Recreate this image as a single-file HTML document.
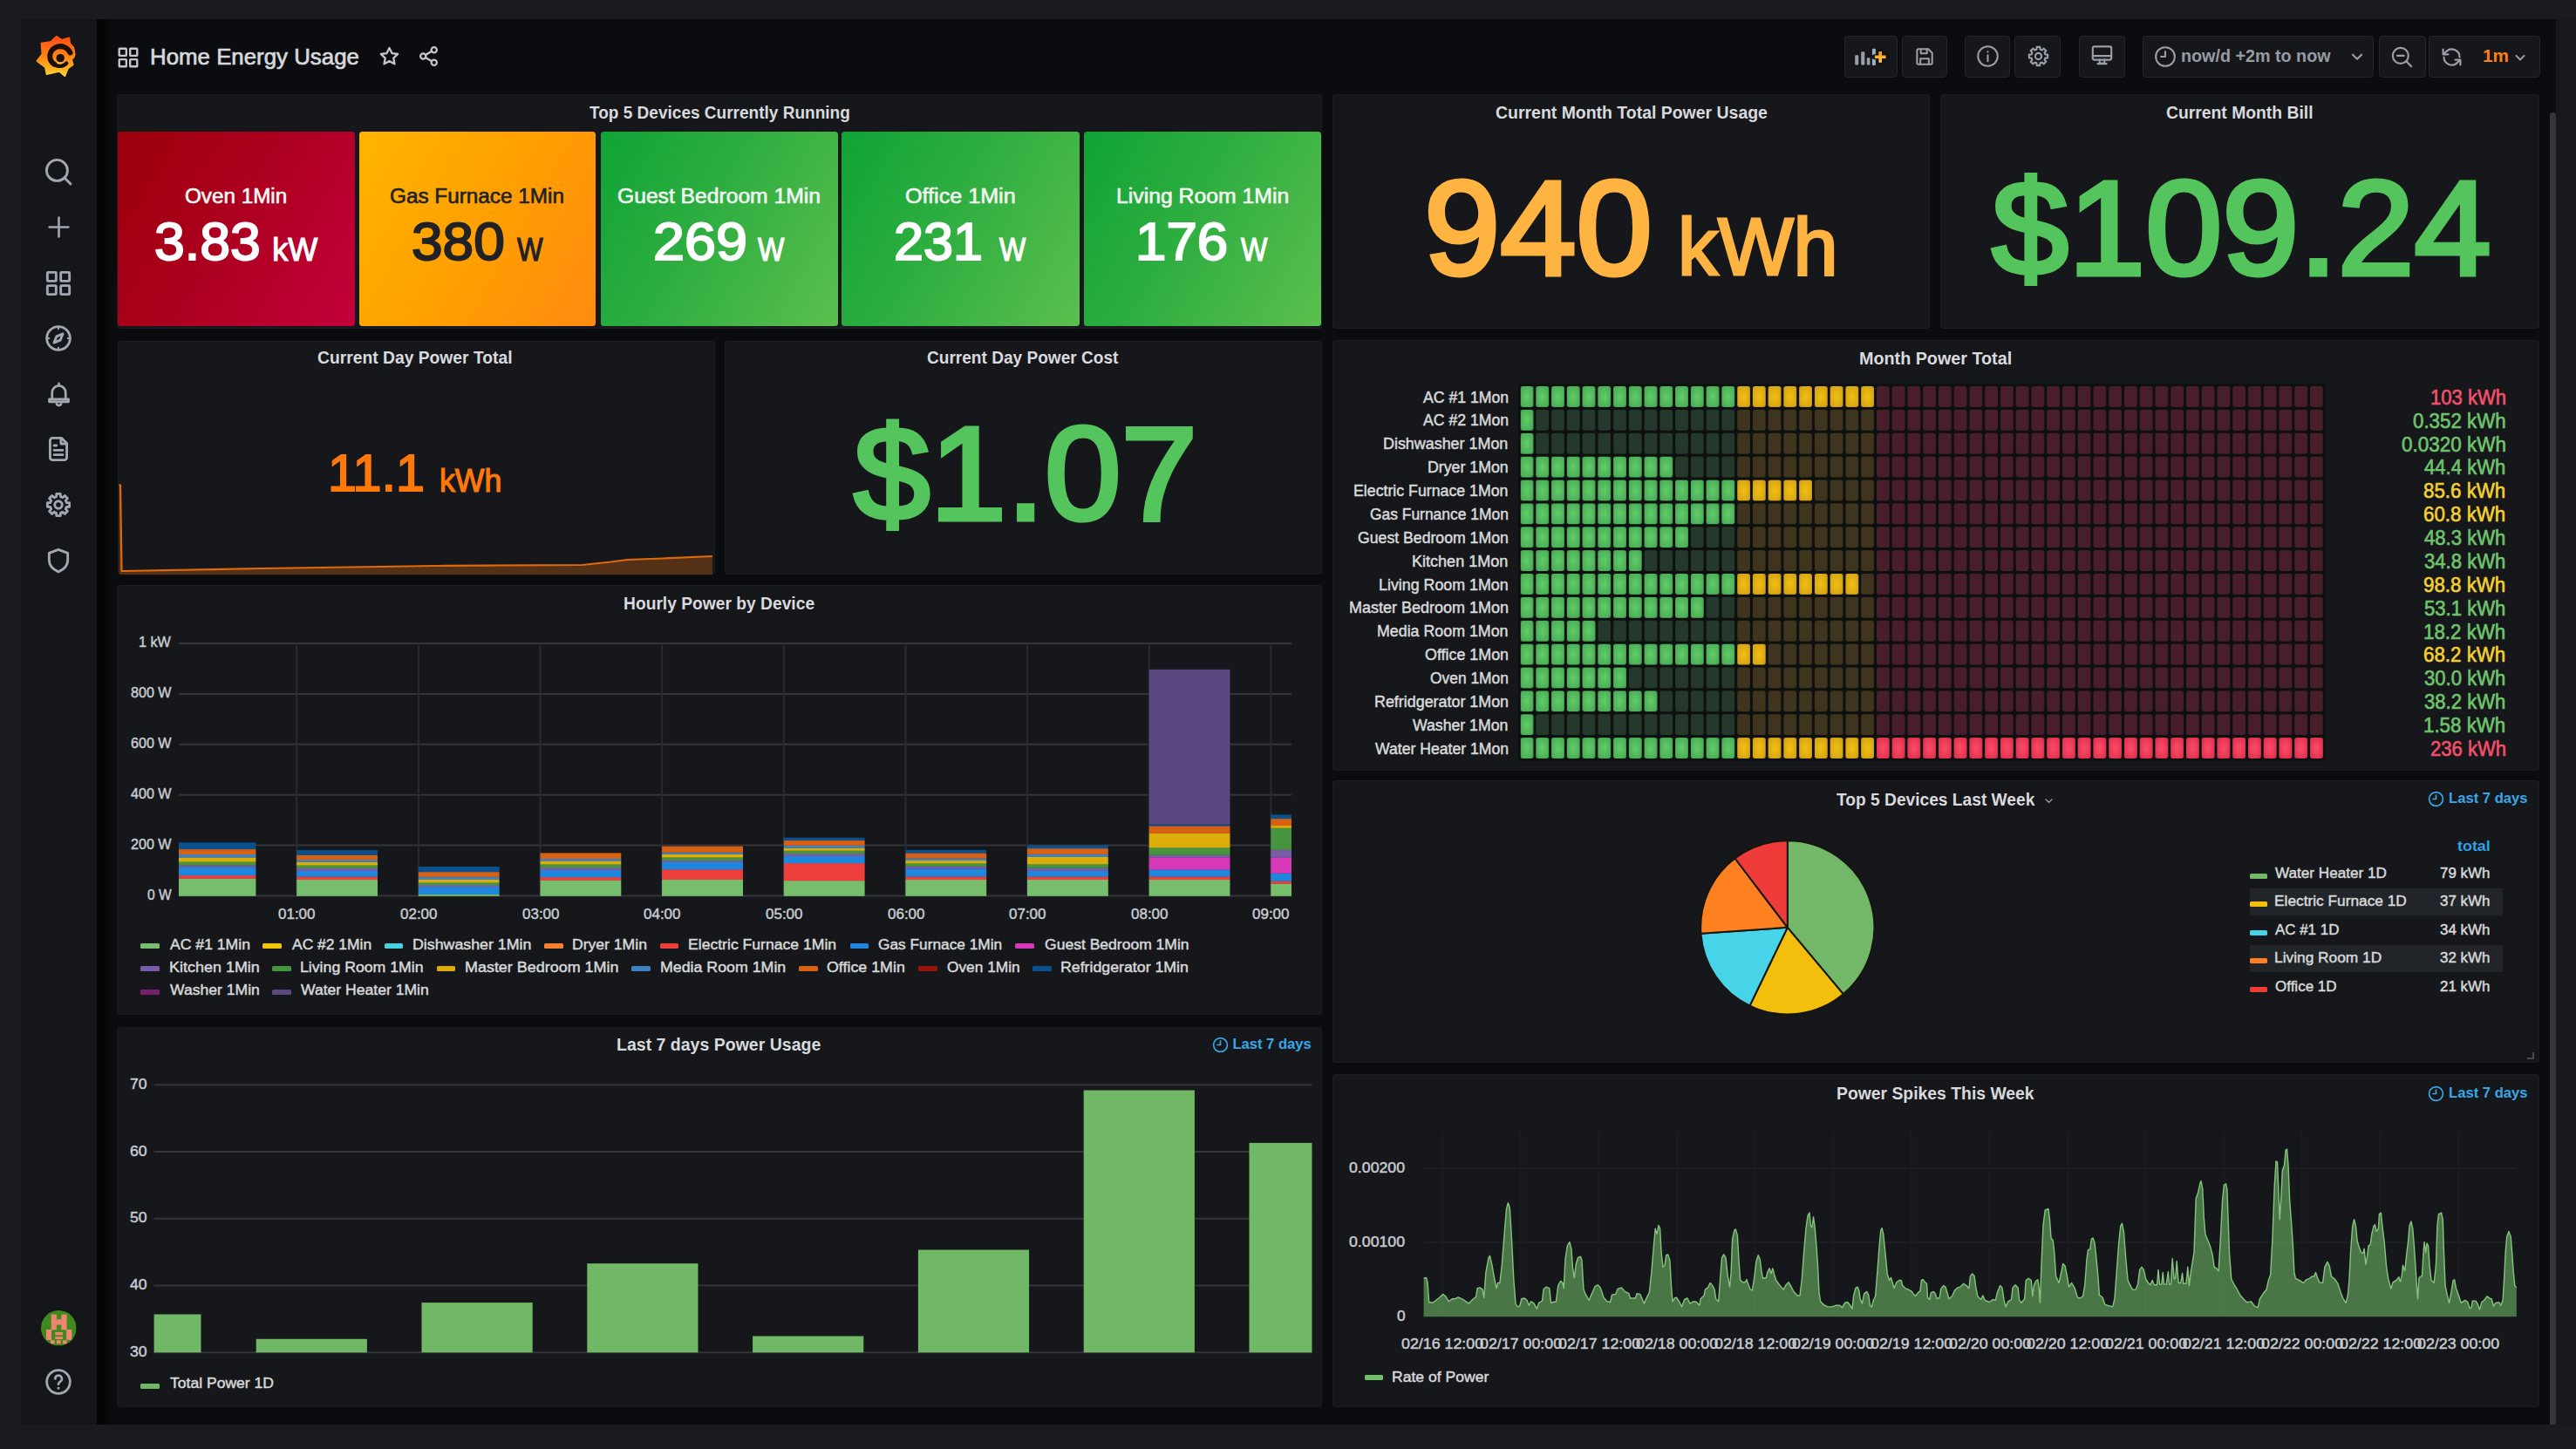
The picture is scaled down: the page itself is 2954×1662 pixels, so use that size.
<!DOCTYPE html><html lang="en"><head><meta charset="utf-8"><title>Home Energy Usage - Grafana</title><style>
*{box-sizing:border-box}
html,body{margin:0;padding:0}
body{width:2954px;height:1662px;overflow:hidden;background:#1a1b1f;font-family:"Liberation Sans",Arial,sans-serif;position:relative}
.app{position:absolute;left:24px;top:22px;width:2907px;height:1612px;background:#0b0c0f;overflow:hidden}
.side{position:absolute;left:0;top:0;width:86.500px;height:1612px;background:#15161a;z-index:3}
.side:after{content:"";position:absolute;left:86.500px;top:0;width:20px;height:100%;background:linear-gradient(90deg,rgba(0,0,0,.62),rgba(0,0,0,.45) 45%,rgba(0,0,0,0))}
.top{position:absolute;left:0;top:0;width:2907px;height:86px}
.rstrip{position:absolute;left:2931px;top:22px;width:23px;height:1612px;background:#17181c}
.scroll{position:absolute;left:2900px;top:107px;width:7px;height:1505px;background:#34363c;border-radius:3px 3px 0 0}
.panel{position:absolute;background:#15171b;border-radius:4px;overflow:hidden;box-shadow:inset 0 0 0 1px #1b1d21}
.t{position:absolute;white-space:pre;transform-origin:0 0}
.ic{position:absolute;overflow:visible}
.btn{position:absolute;background:#15171b;border:1.500px solid #22252a;border-radius:4px}
.tile{position:absolute;border-radius:3.500px}
.sw{position:absolute;display:block;width:21.500px;height:6px;border-radius:1.500px}
.zebra{position:absolute;background:#212429}
</style></head><body><div class="rstrip"></div><div class="app"><nav class="side"><svg class="ic" style="left:15.5px;top:16.8px" width="47.8" height="50.3" viewBox="250 270 770 810"><defs><linearGradient id="lg" x1="0" y1="0" x2="0" y2="1"><stop offset="0" stop-color="#ff4d12"/><stop offset="0.45" stop-color="#ff7f16"/><stop offset="0.800" stop-color="#ffb01c"/><stop offset="1" stop-color="#ffd23a"/></linearGradient></defs><path d="M650 312 L745 378 L885 338 L898 445 L965 520 L988 640 L972 700 L930 740 L955 838 L862 905 L805 1048 L700 962 L468 1015 L440 885 L288 770 L385 640 L368 440 L545 412Z" fill="url(#lg)" stroke="url(#lg)" stroke-width="26" stroke-linejoin="round"/><path d="M903 615 L886 586 L866 561 L842 539 L816 522 L787 509 L757 500 L726 496 L696 498 L666 503 L638 514 L612 528 L588 546 L568 567 L552 591 L540 617 L532 644 L528 672 L529 699 L533 726 L542 752 L555 776 L571 797 L590 815 L611 830" fill="none" stroke="#1c0e0b" stroke-width="96" stroke-linecap="round" stroke-linejoin="round"/><path d="M569 790 L577 800 L585 809 L594 818 L603 827 L613 834 L624 841 L635 847 L646 852 L658 856 L671 859 L683 862 L696 863 L708 864 L721 863 L734 862 L746 860 L759 856 L771 852 L782 847 L794 841 L805 834 L815 827 L825 818 L834 809" fill="none" stroke="#1c0e0b" stroke-width="70" stroke-linecap="round" stroke-linejoin="round"/><circle cx="720" cy="716" r="76" fill="#1c0e0b"/><path d="M672 796A86 86 0 0 0 752 800" fill="none" stroke="#ffc83a" stroke-width="20" stroke-linecap="round"/></svg><svg class="ic" style="left:27.0px;top:158.5px" width="32" height="32" viewBox="0 0 24 24" ><g fill="none" stroke="#a2a8b2" stroke-width="2.15" stroke-linecap="round" stroke-linejoin="round"><circle cx="10.800" cy="10.800" r="9"/><path d="M17.400 17.400l5 5"/></g></svg><svg class="ic" style="left:28.5px;top:223.5px" width="29" height="29" viewBox="0 0 24 24" ><g fill="none" stroke="#a2a8b2" stroke-width="2.15" stroke-linecap="round" stroke-linejoin="round"><path d="M12 3v18M3 12h18"/></g></svg><svg class="ic" style="left:27.0px;top:286.5px" width="32" height="32" viewBox="0 0 24 24" ><g fill="none" stroke="#a2a8b2" stroke-width="2.15" stroke-linecap="round" stroke-linejoin="round"><rect x="2.5" y="2.5" width="7.5" height="7.5" rx="0.6"/><rect x="14" y="2.5" width="7.5" height="7.5" rx="0.6"/><rect x="2.5" y="14" width="7.5" height="7.5" rx="0.6"/><rect x="14" y="14" width="7.5" height="7.5" rx="0.6"/></g></svg><svg class="ic" style="left:27.0px;top:349.5px" width="32" height="32" viewBox="0 0 24 24" ><g fill="none" stroke="#a2a8b2" stroke-width="2.15" stroke-linecap="round" stroke-linejoin="round"><circle cx="12" cy="12" r="10"/><path d="M15.8 8.2l-2.2 5.4-5.4 2.2 2.2-5.4z"/><path d="M12 2.5v1.5M12 20v1.5M2.5 12H4M20 12h1.5" stroke-width="1.5"/></g></svg><svg class="ic" style="left:27.5px;top:414.0px" width="31" height="31" viewBox="0 0 24 24" ><g fill="none" stroke="#a2a8b2" stroke-width="2.15" stroke-linecap="round" stroke-linejoin="round"><path d="M6 17V11a6 6 0 0 1 12 0v6"/><path d="M3.5 17h17v2.2h-17z"/><path d="M10 21.2a2.2 2.2 0 0 0 4 0"/><path d="M12 3v1.6"/></g></svg><svg class="ic" style="left:27.0px;top:477.0px" width="32" height="32" viewBox="0 0 24 24" ><g fill="none" stroke="#a2a8b2" stroke-width="2.15" stroke-linecap="round" stroke-linejoin="round"><path d="M14.5 2.5H7a2.2 2.2 0 0 0-2.2 2.2v14.6A2.2 2.2 0 0 0 7 21.5h10a2.2 2.2 0 0 0 2.2-2.2V7.2z"/><path d="M14.2 2.8v4.7h4.7"/><path d="M8.3 13h7.4M8.3 17h7.4M8.3 9h2"/></g></svg><svg class="ic" style="left:27.0px;top:541.0px" width="32" height="32" viewBox="0 0 24 24" ><g fill="none" stroke="#a2a8b2" stroke-width="2.15" stroke-linecap="round" stroke-linejoin="round"><path d="M10.35 2.54 L13.65 2.54 L13.85 5.04 L15.62 5.77 L17.52 4.15 L19.85 6.48 L18.23 8.38 L18.96 10.15 L21.46 10.35 L21.46 13.65 L18.96 13.85 L18.23 15.62 L19.85 17.52 L17.52 19.85 L15.62 18.23 L13.85 18.96 L13.65 21.46 L10.35 21.46 L10.15 18.96 L8.38 18.23 L6.48 19.85 L4.15 17.52 L5.77 15.62 L5.04 13.85 L2.54 13.65 L2.54 10.35 L5.04 10.15 L5.77 8.38 L4.15 6.48 L6.48 4.15 L8.38 5.77 L10.15 5.04Z"/><circle cx="12" cy="12" r="3.2"/></g></svg><svg class="ic" style="left:27.0px;top:604.5px" width="32" height="32" viewBox="0 0 24 24" ><g fill="none" stroke="#a2a8b2" stroke-width="2.15" stroke-linecap="round" stroke-linejoin="round"><path d="M12 2.6l8 2.9v6.2c0 4.6-3.2 8-8 10-4.8-2-8-5.4-8-10V5.500z"/></g></svg><svg class="ic" style="left:23.1px;top:1480.5px" width="40.6" height="40.6" viewBox="0 0 40.6 40.6" ><defs><clipPath id="avc"><circle cx="20.3" cy="20.3" r="20.3"/></clipPath></defs><g clip-path="url(#avc)"><rect width="40.6" height="40.6" fill="#3f8a1c"/><rect x="11.80" y="4.60" width="6.10" height="6.10" fill="#f28474"/><rect x="23.40" y="4.60" width="6.10" height="6.10" fill="#f28474"/><rect x="11.80" y="10.40" width="6.10" height="6.10" fill="#f28474"/><rect x="17.60" y="10.40" width="6.10" height="6.10" fill="#f28474"/><rect x="23.40" y="10.40" width="6.10" height="6.10" fill="#f28474"/><rect x="11.80" y="16.20" width="6.10" height="6.10" fill="#f28474"/><rect x="23.40" y="16.20" width="6.10" height="6.10" fill="#f28474"/><rect x="6.00" y="22.00" width="6.10" height="6.10" fill="#f28474"/><rect x="29.20" y="22.00" width="6.10" height="6.10" fill="#f28474"/><rect x="6.00" y="27.80" width="6.10" height="6.10" fill="#f28474"/><rect x="29.20" y="27.80" width="6.10" height="6.10" fill="#f28474"/><rect x="16.24" y="24.94" width="8.70" height="3.48" fill="#f28474"/><rect x="16.24" y="30.16" width="8.70" height="2.90" fill="#f28474"/><rect x="11.02" y="34.22" width="4.64" height="4.06" fill="#f28474"/><rect x="17.98" y="34.22" width="4.64" height="4.06" fill="#f28474"/><rect x="24.94" y="34.22" width="4.64" height="4.06" fill="#f28474"/></g></svg><svg class="ic" style="left:27.0px;top:1546.8px" width="32" height="32" viewBox="0 0 24 24" ><g fill="none" stroke="#a2a8b2" stroke-width="2.1" stroke-linecap="round" stroke-linejoin="round"><circle cx="12" cy="12" r="10"/><path d="M9.2 9.3a2.9 2.9 0 1 1 4.3 2.6c-.9.5-1.5 1-1.5 2.100"/><path d="M12 17.3v.2"/></g></svg></nav><header class="top"><svg class="ic" style="left:110.0px;top:31.0px" width="26" height="26" viewBox="0 0 24 24" ><g fill="none" stroke="#c3c7cd" stroke-width="2.2" stroke-linecap="round" stroke-linejoin="round"><rect x="2.5" y="2.5" width="7.5" height="7.5" rx="0.6"/><rect x="14" y="2.5" width="7.5" height="7.5" rx="0.6"/><rect x="2.5" y="14" width="7.5" height="7.5" rx="0.6"/><rect x="14" y="14" width="7.5" height="7.5" rx="0.6"/></g></svg><span class="t" style="left:148.1px;top:29.6px;font-size:26.4px;line-height:26.4px;color:#d6d8dc;-webkit-text-stroke:0.71px;transform:scaleX(0.9794);">Home Energy Usage</span><svg class="ic" style="left:409.5px;top:30.0px" width="25" height="25" viewBox="0 0 24 24" ><g fill="none" stroke="#c3c7cd" stroke-width="2.2" stroke-linecap="round" stroke-linejoin="round"><path d="M12 2.8l2.85 5.9 6.45.9-4.7 4.5 1.15 6.4L12 17.4l-5.75 3.100 1.15-6.4-4.7-4.5 6.450-.9z"/></g></svg><svg class="ic" style="left:454.5px;top:30.0px" width="25" height="25" viewBox="0 0 24 24" ><g fill="none" stroke="#c3c7cd" stroke-width="2.2" stroke-linecap="round" stroke-linejoin="round"><circle cx="18" cy="5" r="3"/><circle cx="6" cy="12" r="3"/><circle cx="18" cy="19" r="3"/><path d="M8.600 10.500l6.800-4M8.600 13.500l6.800 4"/></g></svg><div class="btn" style="left:2090.5px;top:18.5px;width:61.0px;height:48px"></div><div class="btn" style="left:2156.7px;top:18.5px;width:52.3px;height:48px"></div><div class="btn" style="left:2229.2px;top:18.5px;width:51.8px;height:48px"></div><div class="btn" style="left:2286.4px;top:18.5px;width:53.0px;height:48px"></div><div class="btn" style="left:2360.0px;top:18.5px;width:52.6px;height:48px"></div><div class="btn" style="left:2432.5px;top:18.5px;width:265.9px;height:48px"></div><div class="btn" style="left:2704.0px;top:18.5px;width:53.6px;height:48px"></div><div class="btn" style="left:2760.5px;top:18.5px;width:128.1px;height:48px"></div><svg class="ic" style="left:2096.0px;top:28.0px" width="50" height="30" viewBox="0 0 50 30" ><defs><linearGradient id="apg" x1="0" y1="0" x2="0" y2="1"><stop offset="0" stop-color="#ff9318"/><stop offset="1" stop-color="#ffce3e"/></linearGradient></defs><rect x="7.2" y="13.3" width="4.0" height="11.3" rx="1" fill="#9a9ea6"/><rect x="14.2" y="9.2" width="4.1" height="15.4" rx="1" fill="#9a9ea6"/><rect x="20.8" y="16.3" width="3.6" height="8.3" rx="1" fill="#9a9ea6"/><rect x="26.9" y="5.7" width="4.0" height="19.2" rx="1" fill="#9fb0c4"/><path d="M36.2 8.9v12.800M29.8 15.3h12.800" stroke="#14100a" stroke-width="6" stroke-linecap="round" fill="none"/><path d="M36.2 8.9v12.800M29.8 15.3h12.800" stroke="url(#apg)" stroke-width="3.600" fill="none"/></svg><svg class="ic" style="left:2170.0px;top:29.5px" width="26" height="26" viewBox="0 0 24 24" ><g fill="none" stroke="#9a9fa8" stroke-width="1.9" stroke-linecap="round" stroke-linejoin="round"><path d="M4 5.500A1.500 1.500 0 0 1 5.500 4H16l4 4v10.500a1.500 1.500 0 0 1-1.500 1.500h-13A1.500 1.500 0 0 1 4 18.500z"/><path d="M8 4v4.500h6.500V4"/><path d="M7.500 20v-6h9v6"/></g></svg><svg class="ic" style="left:2242.0px;top:29.0px" width="27" height="27" viewBox="0 0 24 24" ><g fill="none" stroke="#9a9fa8" stroke-width="1.8" stroke-linecap="round" stroke-linejoin="round"><circle cx="12" cy="12" r="10"/><path d="M12 11v6"/><path d="M12 7.400v.2"/></g></svg><svg class="ic" style="left:2299.5px;top:29.0px" width="27" height="27" viewBox="0 0 24 24" ><g fill="none" stroke="#9a9fa8" stroke-width="1.9" stroke-linecap="round" stroke-linejoin="round"><path d="M10.35 2.54 L13.65 2.54 L13.85 5.04 L15.62 5.77 L17.52 4.15 L19.85 6.48 L18.23 8.38 L18.96 10.15 L21.46 10.35 L21.46 13.65 L18.96 13.85 L18.23 15.62 L19.85 17.52 L17.52 19.85 L15.62 18.23 L13.85 18.96 L13.65 21.46 L10.35 21.46 L10.15 18.96 L8.38 18.23 L6.48 19.85 L4.15 17.52 L5.77 15.62 L5.04 13.85 L2.54 13.65 L2.54 10.35 L5.04 10.15 L5.77 8.38 L4.15 6.48 L6.48 4.15 L8.38 5.77 L10.15 5.04Z"/><circle cx="12" cy="12" r="3.2"/></g></svg><svg class="ic" style="left:2373.0px;top:28.0px" width="27" height="27" viewBox="0 0 24 24" ><g fill="none" stroke="#9a9fa8" stroke-width="1.9" stroke-linecap="round" stroke-linejoin="round"><rect x="2.500" y="3" width="19" height="13.500" rx="1.800"/><path d="M2.500 12.500h19"/><path d="M9.500 16.500v3.500h5v-3.500"/><path d="M7.500 20.500h9"/></g></svg><svg class="ic" style="left:2446.2px;top:29.5px" width="26" height="26" viewBox="0 0 24 24" ><g fill="none" stroke="#9a9fa8" stroke-width="1.9" stroke-linecap="round" stroke-linejoin="round"><circle cx="12" cy="12" r="10"/><path d="M12 6.500V12H7.500"/></g></svg><span class="t" style="left:2477.0px;top:32.4px;font-size:20px;line-height:20px;color:#979ba3;font-weight:700;transform:scaleX(0.9866);">now/d +2m to now</span><svg class="ic" style="left:2667.5px;top:32.0px" width="22" height="22" viewBox="0 0 24 24" ><g fill="none" stroke="#9a9fa8" stroke-width="2.3" stroke-linecap="round" stroke-linejoin="round"><path d="M6.500 9.500l5.500 5.500 5.500-5.500"/></g></svg><svg class="ic" style="left:2716.5px;top:30.0px" width="27" height="27" viewBox="0 0 24 24" ><g fill="none" stroke="#9a9fa8" stroke-width="1.9" stroke-linecap="round" stroke-linejoin="round"><circle cx="10.500" cy="10.500" r="8"/><path d="M16.500 16.500l5 5"/><path d="M7 10.500h7"/></g></svg><svg class="ic" style="left:2774.2px;top:29.5px" width="27" height="27" viewBox="0 0 24 24" ><g fill="none" stroke="#9a9fa8" stroke-width="1.9" stroke-linecap="round" stroke-linejoin="round"><path d="M20 12a8 8 0 0 0-14-5.300L3.500 9"/><path d="M3.200 4v5.200h5.200"/><path d="M4 12a8 8 0 0 0 14 5.300l2.500-2.300"/><path d="M20.800 20v-5.200h-5.200"/></g></svg><span class="t" style="left:2822.6px;top:32.4px;font-size:20px;line-height:20px;color:#ff7f17;font-weight:700;transform:scaleX(1.0360);">1m</span><svg class="ic" style="left:2855.7px;top:33.5px" width="20" height="20" viewBox="0 0 24 24" ><g fill="none" stroke="#9a9fa8" stroke-width="2.4" stroke-linecap="round" stroke-linejoin="round"><path d="M6.500 9.500l5.500 5.500 5.500-5.500"/></g></svg></header><main><section class="panel" style="left:110px;top:86px;width:1382px;height:268.5px"><span class="t" style="left:542.1px;top:10.9px;font-size:20px;line-height:20px;color:#d8dade;font-weight:700;transform:scaleX(0.9514);">Top 5 Devices Currently Running</span><div class="tile" style="left:0.5px;top:42.7px;width:272.8px;height:223.700px;background:linear-gradient(120deg,#9c000b 0%,#a80019 35%,#c3003b 100%)"></div><span class="t" style="left:78.2px;top:105.8px;font-size:23px;line-height:23px;color:#f2f6f2;-webkit-text-stroke:0.62px;transform:scaleX(1.0541);">Oven 1Min</span><span class="t" style="left:42.9px;top:139.2px;font-size:60.75px;line-height:60.75px;color:#ffffff;-webkit-text-stroke:2.00px;transform:scaleX(1.0304);">3.83</span><span class="t" style="left:178.3px;top:160.6px;font-size:36.05px;line-height:36.05px;color:#ffffff;-webkit-text-stroke:1.19px;">kW</span><div class="tile" style="left:277.8px;top:42.7px;width:271.4px;height:223.700px;background:linear-gradient(120deg,#ffb400 0%,#ffa000 50%,#ff8a10 100%)"></div><span class="t" style="left:313.4px;top:105.8px;font-size:23px;line-height:23px;color:#202226;-webkit-text-stroke:0.62px;transform:scaleX(1.0568);">Gas Furnace 1Min</span><span class="t" style="left:338.1px;top:139.2px;font-size:60.75px;line-height:60.75px;color:#202226;-webkit-text-stroke:2.00px;transform:scaleX(1.0535);">380</span><span class="t" style="left:459.1px;top:160.6px;font-size:36.05px;line-height:36.05px;color:#202226;-webkit-text-stroke:1.19px;transform:scaleX(0.8696);">W</span><div class="tile" style="left:554.6px;top:42.7px;width:272.0px;height:223.700px;background:linear-gradient(120deg,#0fa336 0%,#2fae40 45%,#5bbf4f 100%)"></div><span class="t" style="left:574.0px;top:105.8px;font-size:23px;line-height:23px;color:#f2f6f2;-webkit-text-stroke:0.62px;transform:scaleX(1.0719);">Guest Bedroom 1Min</span><span class="t" style="left:614.9px;top:139.2px;font-size:60.75px;line-height:60.75px;color:#ffffff;-webkit-text-stroke:2.00px;transform:scaleX(1.0658);">269</span><span class="t" style="left:734.6px;top:160.6px;font-size:36.05px;line-height:36.05px;color:#ffffff;-webkit-text-stroke:1.19px;transform:scaleX(0.8923);">W</span><div class="tile" style="left:831.4px;top:42.7px;width:272.4px;height:223.700px;background:linear-gradient(120deg,#0fa336 0%,#2fae40 45%,#5bbf4f 100%)"></div><span class="t" style="left:904.1px;top:105.8px;font-size:23px;line-height:23px;color:#f2f6f2;-webkit-text-stroke:0.62px;transform:scaleX(1.0930);">Office 1Min</span><span class="t" style="left:891.2px;top:139.2px;font-size:60.75px;line-height:60.75px;color:#ffffff;-webkit-text-stroke:2.00px;transform:scaleX(1.0074);">231</span><span class="t" style="left:1011.9px;top:160.6px;font-size:36.05px;line-height:36.05px;color:#ffffff;-webkit-text-stroke:1.19px;transform:scaleX(0.8895);">W</span><div class="tile" style="left:1108.7px;top:42.7px;width:272.6px;height:223.700px;background:linear-gradient(120deg,#0fa336 0%,#2fae40 45%,#5bbf4f 100%)"></div><span class="t" style="left:1145.8px;top:105.8px;font-size:23px;line-height:23px;color:#f2f6f2;-webkit-text-stroke:0.62px;transform:scaleX(1.0770);">Living Room 1Min</span><span class="t" style="left:1168.3px;top:139.2px;font-size:60.75px;line-height:60.75px;color:#ffffff;-webkit-text-stroke:2.00px;transform:scaleX(1.0484);">176</span><span class="t" style="left:1289.1px;top:160.6px;font-size:36.05px;line-height:36.05px;color:#ffffff;-webkit-text-stroke:1.19px;transform:scaleX(0.8923);">W</span></section><section class="panel" style="left:1504px;top:86px;width:685px;height:268.5px"><span class="t" style="left:186.6px;top:11.1px;font-size:20px;line-height:20px;color:#d8dade;font-weight:700;transform:scaleX(0.9724);">Current Month Total Power Usage</span><span class="t" style="left:105.2px;top:76.8px;font-size:153.14px;line-height:153.14px;color:#ffb340;-webkit-text-stroke:5.05px;transform:scaleX(1.0247);">940</span><span class="t" style="left:396.0px;top:129.5px;font-size:92.12px;line-height:92.12px;color:#ffb340;-webkit-text-stroke:3.04px;transform:scaleX(0.9970);">kWh</span></section><section class="panel" style="left:2201px;top:86px;width:686.5px;height:268.5px"><span class="t" style="left:259.2px;top:11.1px;font-size:20px;line-height:20px;color:#d8dade;font-weight:700;transform:scaleX(0.9663);">Current Month Bill</span><span class="t" style="left:59.2px;top:76.8px;font-size:153.14px;line-height:153.14px;color:#54c45c;-webkit-text-stroke:5.05px;transform:scaleX(1.0345);">$109.24</span></section><section class="panel" style="left:110.5px;top:368.5px;width:685px;height:268.5px"><span class="t" style="left:229.7px;top:9.6px;font-size:20px;line-height:20px;color:#d8dade;font-weight:700;transform:scaleX(0.9640);">Current Day Power Total</span><span class="t" style="left:241.6px;top:123.8px;font-size:59.01px;line-height:59.01px;color:#ff780a;-webkit-text-stroke:1.95px;transform:scaleX(1.0058);">11.1</span><span class="t" style="left:369.9px;top:143.6px;font-size:36.05px;line-height:36.05px;color:#ff780a;-webkit-text-stroke:1.19px;transform:scaleX(0.9894);">kWh</span><svg class="ic" style="left:0;top:0" width="685" height="268" viewBox="0 0 685 268"><polygon points="1.5,165.0 3.0,165.5 4.5,264.0 165.5,261.0 365.5,258.0 532.5,257.0 565.5,253.5 584.5,251.0 625.5,249.5 682.0,247.0 682.0,268.0 1.5,268.0" fill="#ff780a" fill-opacity="0.27"/><polyline points="1.5,165.0 3.0,165.5 4.5,264.0 165.5,261.0 365.5,258.0 532.5,257.0 565.5,253.5 584.5,251.0 625.5,249.5 682.0,247.0" fill="none" stroke="#e06a0b" stroke-width="2.2" stroke-linejoin="round"/></svg></section><section class="panel" style="left:806.5px;top:368.5px;width:685.5px;height:268.5px"><span class="t" style="left:232.9px;top:9.6px;font-size:20px;line-height:20px;color:#d8dade;font-weight:700;transform:scaleX(0.9536);">Current Day Power Cost</span><span class="t" style="left:148.4px;top:75.9px;font-size:153.0px;line-height:153.0px;color:#54c45c;-webkit-text-stroke:5.05px;transform:scaleX(1.0294);">$1.07</span></section><section class="panel" style="left:1504px;top:368px;width:1383.5px;height:493.5px"><span class="t" style="left:604.0px;top:10.6px;font-size:20px;line-height:20px;color:#d8dade;font-weight:700;transform:scaleX(0.9873);">Month Power Total</span><svg class="ic" style="left:0;top:0" width="1383" height="493" viewBox="0 0 1383 493"><defs><radialGradient id="rgg" cx="0.5" cy="0.5" r="0.75"><stop offset="0" stop-color="#62cc69"/><stop offset="1" stop-color="#43a551"/></radialGradient><pattern id="plg" patternUnits="userSpaceOnUse" x="215.60" y="53.00" width="17.754" height="26.87"><rect x="0" y="0" width="14.7" height="23.8" rx="2.6" fill="url(#rgg)"/></pattern><pattern id="pdg" patternUnits="userSpaceOnUse" x="215.60" y="53.00" width="17.754" height="26.87"><rect x="0" y="0" width="14.7" height="23.8" rx="2.6" fill="#24382b"/></pattern><radialGradient id="rgy" cx="0.5" cy="0.5" r="0.75"><stop offset="0" stop-color="#f0c010"/><stop offset="1" stop-color="#cf9c18"/></radialGradient><pattern id="ply" patternUnits="userSpaceOnUse" x="215.60" y="53.00" width="17.754" height="26.87"><rect x="0" y="0" width="14.7" height="23.8" rx="2.6" fill="url(#rgy)"/></pattern><pattern id="pdy" patternUnits="userSpaceOnUse" x="215.60" y="53.00" width="17.754" height="26.87"><rect x="0" y="0" width="14.7" height="23.8" rx="2.6" fill="#3f341d"/></pattern><radialGradient id="rgr" cx="0.5" cy="0.5" r="0.75"><stop offset="0" stop-color="#ff4a68"/><stop offset="1" stop-color="#d62c48"/></radialGradient><pattern id="plr" patternUnits="userSpaceOnUse" x="215.60" y="53.00" width="17.754" height="26.87"><rect x="0" y="0" width="14.7" height="23.8" rx="2.6" fill="url(#rgr)"/></pattern><pattern id="pdr" patternUnits="userSpaceOnUse" x="215.60" y="53.00" width="17.754" height="26.87"><rect x="0" y="0" width="14.7" height="23.8" rx="2.6" fill="#481e2a"/></pattern></defs><rect x="213.10" y="50.50" width="925.61" height="432.22" rx="3" fill="#0d100f"/><rect x="215.60" y="53.00" width="247.56" height="428.92" fill="url(#pdg)"/><rect x="464.16" y="53.00" width="158.79" height="428.92" fill="url(#pdy)"/><rect x="623.94" y="53.00" width="513.87" height="428.92" fill="url(#pdr)"/><rect x="215.60" y="53.00" width="247.56" height="24.30" fill="url(#plg)"/><rect x="464.16" y="53.00" width="158.79" height="24.30" fill="url(#ply)"/><rect x="215.60" y="79.87" width="16.75" height="24.30" fill="url(#plg)"/><rect x="215.60" y="106.74" width="16.75" height="24.30" fill="url(#plg)"/><rect x="215.60" y="133.61" width="176.54" height="24.30" fill="url(#plg)"/><rect x="215.60" y="160.48" width="247.56" height="24.30" fill="url(#plg)"/><rect x="464.16" y="160.48" width="87.77" height="24.30" fill="url(#ply)"/><rect x="215.60" y="187.35" width="247.56" height="24.30" fill="url(#plg)"/><rect x="215.60" y="214.22" width="194.29" height="24.30" fill="url(#plg)"/><rect x="215.60" y="241.09" width="141.03" height="24.30" fill="url(#plg)"/><rect x="215.60" y="267.96" width="247.56" height="24.30" fill="url(#plg)"/><rect x="464.16" y="267.96" width="141.03" height="24.30" fill="url(#ply)"/><rect x="215.60" y="294.83" width="212.05" height="24.30" fill="url(#plg)"/><rect x="215.60" y="321.70" width="87.77" height="24.30" fill="url(#plg)"/><rect x="215.60" y="348.57" width="247.56" height="24.30" fill="url(#plg)"/><rect x="464.16" y="348.57" width="34.51" height="24.30" fill="url(#ply)"/><rect x="215.60" y="375.44" width="123.28" height="24.30" fill="url(#plg)"/><rect x="215.60" y="402.31" width="158.79" height="24.30" fill="url(#plg)"/><rect x="215.60" y="429.18" width="16.75" height="24.30" fill="url(#plg)"/><rect x="215.60" y="456.05" width="247.56" height="24.30" fill="url(#plg)"/><rect x="464.16" y="456.05" width="158.79" height="24.30" fill="url(#ply)"/><rect x="623.94" y="456.05" width="513.87" height="24.30" fill="url(#plr)"/></svg><span class="t" style="left:103.6px;top:56.6px;font-size:18px;line-height:18px;color:#d8d9da;-webkit-text-stroke:0.49px;transform:scaleX(0.9806);">AC #1 1Mon</span><span class="t" style="left:1258.5px;top:53.8px;font-size:24.2px;line-height:24.2px;color:#f4506a;-webkit-text-stroke:0.65px;transform:scaleX(0.9119);">103 kWh</span><span class="t" style="left:103.6px;top:83.4px;font-size:18px;line-height:18px;color:#d8d9da;-webkit-text-stroke:0.49px;transform:scaleX(0.9806);">AC #2 1Mon</span><span class="t" style="left:1238.9px;top:80.7px;font-size:24.2px;line-height:24.2px;color:#6fc46c;-webkit-text-stroke:0.65px;transform:scaleX(0.9223);">0.352 kWh</span><span class="t" style="left:58.4px;top:110.3px;font-size:18px;line-height:18px;color:#d8d9da;-webkit-text-stroke:0.49px;transform:scaleX(0.9948);">Dishwasher 1Mon</span><span class="t" style="left:1225.6px;top:107.5px;font-size:24.2px;line-height:24.2px;color:#6fc46c;-webkit-text-stroke:0.65px;transform:scaleX(0.9292);">0.0320 kWh</span><span class="t" style="left:109.1px;top:137.2px;font-size:18px;line-height:18px;color:#d8d9da;-webkit-text-stroke:0.49px;transform:scaleX(0.9859);">Dryer 1Mon</span><span class="t" style="left:1252.2px;top:134.4px;font-size:24.2px;line-height:24.2px;color:#6fc46c;-webkit-text-stroke:0.65px;transform:scaleX(0.9135);">44.4 kWh</span><span class="t" style="left:24.4px;top:164.0px;font-size:18px;line-height:18px;color:#d8d9da;-webkit-text-stroke:0.49px;transform:scaleX(0.9852);">Electric Furnace 1Mon</span><span class="t" style="left:1251.3px;top:161.3px;font-size:24.2px;line-height:24.2px;color:#f4d030;-webkit-text-stroke:0.65px;transform:scaleX(0.9226);">85.6 kWh</span><span class="t" style="left:42.9px;top:190.9px;font-size:18px;line-height:18px;color:#d8d9da;-webkit-text-stroke:0.49px;transform:scaleX(0.9679);">Gas Furnance 1Mon</span><span class="t" style="left:1251.3px;top:188.2px;font-size:24.2px;line-height:24.2px;color:#f4d030;-webkit-text-stroke:0.65px;transform:scaleX(0.9226);">60.8 kWh</span><span class="t" style="left:28.9px;top:217.8px;font-size:18px;line-height:18px;color:#d8d9da;-webkit-text-stroke:0.49px;transform:scaleX(0.9814);">Guest Bedroom 1Mon</span><span class="t" style="left:1252.2px;top:215.0px;font-size:24.2px;line-height:24.2px;color:#6fc46c;-webkit-text-stroke:0.65px;transform:scaleX(0.9135);">48.3 kWh</span><span class="t" style="left:91.4px;top:244.7px;font-size:18px;line-height:18px;color:#d8d9da;-webkit-text-stroke:0.49px;transform:scaleX(1.0024);">Kitchen 1Mon</span><span class="t" style="left:1252.2px;top:241.9px;font-size:24.2px;line-height:24.2px;color:#6fc46c;-webkit-text-stroke:0.65px;transform:scaleX(0.9135);">34.8 kWh</span><span class="t" style="left:53.0px;top:271.5px;font-size:18px;line-height:18px;color:#d8d9da;-webkit-text-stroke:0.49px;transform:scaleX(0.9909);">Living Room 1Mon</span><span class="t" style="left:1251.3px;top:268.8px;font-size:24.2px;line-height:24.2px;color:#f4d030;-webkit-text-stroke:0.65px;transform:scaleX(0.9226);">98.8 kWh</span><span class="t" style="left:18.9px;top:298.4px;font-size:18px;line-height:18px;color:#d8d9da;-webkit-text-stroke:0.49px;">Master Bedroom 1Mon</span><span class="t" style="left:1252.2px;top:295.6px;font-size:24.2px;line-height:24.2px;color:#6fc46c;-webkit-text-stroke:0.65px;transform:scaleX(0.9135);">53.1 kWh</span><span class="t" style="left:51.3px;top:325.3px;font-size:18px;line-height:18px;color:#d8d9da;-webkit-text-stroke:0.49px;transform:scaleX(0.9897);">Media Room 1Mon</span><span class="t" style="left:1251.3px;top:322.5px;font-size:24.2px;line-height:24.2px;color:#6fc46c;-webkit-text-stroke:0.65px;transform:scaleX(0.9226);">18.2 kWh</span><span class="t" style="left:105.7px;top:352.1px;font-size:18px;line-height:18px;color:#d8d9da;-webkit-text-stroke:0.49px;transform:scaleX(0.9928);">Office 1Mon</span><span class="t" style="left:1251.3px;top:349.4px;font-size:24.2px;line-height:24.2px;color:#f4d030;-webkit-text-stroke:0.65px;transform:scaleX(0.9226);">68.2 kWh</span><span class="t" style="left:111.8px;top:379.0px;font-size:18px;line-height:18px;color:#d8d9da;-webkit-text-stroke:0.49px;transform:scaleX(0.9662);">Oven 1Mon</span><span class="t" style="left:1252.2px;top:376.2px;font-size:24.2px;line-height:24.2px;color:#6fc46c;-webkit-text-stroke:0.65px;transform:scaleX(0.9135);">30.0 kWh</span><span class="t" style="left:47.7px;top:405.9px;font-size:18px;line-height:18px;color:#d8d9da;-webkit-text-stroke:0.49px;transform:scaleX(0.9932);">Refridgerator 1Mon</span><span class="t" style="left:1252.2px;top:403.1px;font-size:24.2px;line-height:24.2px;color:#6fc46c;-webkit-text-stroke:0.65px;transform:scaleX(0.9135);">38.2 kWh</span><span class="t" style="left:92.4px;top:432.7px;font-size:18px;line-height:18px;color:#d8d9da;-webkit-text-stroke:0.49px;transform:scaleX(0.9815);">Washer 1Mon</span><span class="t" style="left:1251.3px;top:430.0px;font-size:24.2px;line-height:24.2px;color:#6fc46c;-webkit-text-stroke:0.65px;transform:scaleX(0.9226);">1.58 kWh</span><span class="t" style="left:48.7px;top:459.6px;font-size:18px;line-height:18px;color:#d8d9da;-webkit-text-stroke:0.49px;transform:scaleX(0.9784);">Water Heater 1Mon</span><span class="t" style="left:1258.5px;top:456.9px;font-size:24.2px;line-height:24.2px;color:#f4506a;-webkit-text-stroke:0.65px;transform:scaleX(0.9119);">236 kWh</span></section><section class="panel" style="left:110px;top:649px;width:1382px;height:493px"><span class="t" style="left:581.0px;top:10.9px;font-size:20px;line-height:20px;color:#d8dade;font-weight:700;transform:scaleX(0.9615);">Hourly Power by Device</span><svg class="ic" style="left:0;top:0" width="1382" height="493" viewBox="0 0 1382 493"><path d="M71 67.0H1347" stroke="#33353a" stroke-width="2"/><path d="M71 124.9H1347" stroke="#33353a" stroke-width="2"/><path d="M71 182.8H1347" stroke="#33353a" stroke-width="2"/><path d="M71 240.7H1347" stroke="#33353a" stroke-width="2"/><path d="M71 298.6H1347" stroke="#33353a" stroke-width="2"/><path d="M71 356.5H1347" stroke="#33353a" stroke-width="2"/><path d="M206.2 67V356.5" stroke="#292b30" stroke-width="2"/><path d="M345.9 67V356.5" stroke="#292b30" stroke-width="2"/><path d="M485.5 67V356.5" stroke="#292b30" stroke-width="2"/><path d="M625.2 67V356.5" stroke="#292b30" stroke-width="2"/><path d="M764.8 67V356.5" stroke="#292b30" stroke-width="2"/><path d="M904.5 67V356.5" stroke="#292b30" stroke-width="2"/><path d="M1044.1 67V356.5" stroke="#292b30" stroke-width="2"/><path d="M1183.8 67V356.5" stroke="#292b30" stroke-width="2"/><path d="M1323.4 67V356.5" stroke="#292b30" stroke-width="2"/><rect x="71.0" y="336.50" width="88.4" height="20.30" fill="#76be6c"/><rect x="71.0" y="333.00" width="88.4" height="3.80" fill="#ee3e3c"/><rect x="71.0" y="323.50" width="88.4" height="9.80" fill="#1f86de"/><rect x="71.0" y="321.30" width="88.4" height="2.50" fill="#785caa"/><rect x="71.0" y="317.30" width="88.4" height="4.30" fill="#46943e"/><rect x="71.0" y="312.30" width="88.4" height="5.30" fill="#dcac08"/><rect x="71.0" y="308.80" width="88.4" height="3.80" fill="#3c82c4"/><rect x="71.0" y="302.80" width="88.4" height="6.30" fill="#d66014"/><rect x="71.0" y="295.30" width="88.4" height="7.80" fill="#0a508c"/><rect x="206.2" y="337.75" width="92.8" height="19.05" fill="#76be6c"/><rect x="206.2" y="334.25" width="92.8" height="3.80" fill="#ee3e3c"/><rect x="206.2" y="327.65" width="92.8" height="6.90" fill="#1f86de"/><rect x="206.2" y="324.65" width="92.8" height="3.30" fill="#785caa"/><rect x="206.2" y="321.25" width="92.8" height="3.70" fill="#46943e"/><rect x="206.2" y="317.50" width="92.8" height="4.05" fill="#dcac08"/><rect x="206.2" y="315.00" width="92.8" height="2.80" fill="#3c82c4"/><rect x="206.2" y="309.60" width="92.8" height="5.70" fill="#d66014"/><rect x="206.2" y="304.10" width="92.8" height="5.80" fill="#0a508c"/><rect x="345.8" y="354.50" width="92.8" height="2.30" fill="#76be6c"/><rect x="345.8" y="346.00" width="92.8" height="8.80" fill="#1f86de"/><rect x="345.8" y="344.00" width="92.8" height="2.30" fill="#785caa"/><rect x="345.8" y="341.00" width="92.8" height="3.30" fill="#46943e"/><rect x="345.8" y="337.50" width="92.8" height="3.80" fill="#dcac08"/><rect x="345.8" y="334.50" width="92.8" height="3.30" fill="#3c82c4"/><rect x="345.8" y="329.00" width="92.8" height="5.80" fill="#d66014"/><rect x="345.8" y="323.00" width="92.8" height="6.30" fill="#0a508c"/><rect x="485.5" y="338.50" width="92.8" height="18.30" fill="#76be6c"/><rect x="485.5" y="335.00" width="92.8" height="3.80" fill="#ee3e3c"/><rect x="485.5" y="327.00" width="92.8" height="8.30" fill="#1f86de"/><rect x="485.5" y="324.00" width="92.8" height="3.30" fill="#785caa"/><rect x="485.5" y="320.00" width="92.8" height="4.30" fill="#46943e"/><rect x="485.5" y="316.25" width="92.8" height="4.05" fill="#dcac08"/><rect x="485.5" y="313.75" width="92.8" height="2.80" fill="#3c82c4"/><rect x="485.5" y="307.35" width="92.8" height="6.70" fill="#d66014"/><rect x="625.1" y="337.75" width="92.9" height="19.05" fill="#76be6c"/><rect x="625.1" y="326.15" width="92.9" height="11.90" fill="#ee3e3c"/><rect x="625.1" y="317.65" width="92.9" height="8.80" fill="#1f86de"/><rect x="625.1" y="315.65" width="92.9" height="2.30" fill="#785caa"/><rect x="625.1" y="312.25" width="92.9" height="3.70" fill="#46943e"/><rect x="625.1" y="308.50" width="92.9" height="4.05" fill="#dcac08"/><rect x="625.1" y="306.50" width="92.9" height="2.30" fill="#3c82c4"/><rect x="625.1" y="299.70" width="92.9" height="7.10" fill="#d66014"/><rect x="764.8" y="339.00" width="92.8" height="17.80" fill="#76be6c"/><rect x="764.8" y="319.00" width="92.8" height="20.30" fill="#ee3e3c"/><rect x="764.8" y="311.00" width="92.8" height="8.30" fill="#1f86de"/><rect x="764.8" y="308.00" width="92.8" height="3.30" fill="#785caa"/><rect x="764.8" y="304.50" width="92.8" height="3.80" fill="#46943e"/><rect x="764.8" y="301.50" width="92.8" height="3.30" fill="#dcac08"/><rect x="764.8" y="298.50" width="92.8" height="3.30" fill="#3c82c4"/><rect x="764.8" y="292.80" width="92.8" height="6.00" fill="#d66014"/><rect x="764.8" y="289.80" width="92.8" height="3.30" fill="#0a508c"/><rect x="904.4" y="337.75" width="92.8" height="19.05" fill="#76be6c"/><rect x="904.4" y="334.25" width="92.8" height="3.80" fill="#ee3e3c"/><rect x="904.4" y="325.25" width="92.8" height="9.30" fill="#1f86de"/><rect x="904.4" y="322.55" width="92.8" height="3.00" fill="#785caa"/><rect x="904.4" y="319.05" width="92.8" height="3.80" fill="#46943e"/><rect x="904.4" y="315.85" width="92.8" height="3.50" fill="#dcac08"/><rect x="904.4" y="313.35" width="92.8" height="2.80" fill="#3c82c4"/><rect x="904.4" y="307.35" width="92.8" height="6.30" fill="#d66014"/><rect x="904.4" y="303.85" width="92.8" height="3.80" fill="#0a508c"/><rect x="1044.0" y="337.75" width="92.8" height="19.05" fill="#76be6c"/><rect x="1044.0" y="334.25" width="92.8" height="3.80" fill="#ee3e3c"/><rect x="1044.0" y="327.65" width="92.8" height="6.90" fill="#1f86de"/><rect x="1044.0" y="324.45" width="92.8" height="3.50" fill="#785caa"/><rect x="1044.0" y="319.95" width="92.8" height="4.80" fill="#46943e"/><rect x="1044.0" y="311.55" width="92.8" height="8.70" fill="#dcac08"/><rect x="1044.0" y="308.55" width="92.8" height="3.30" fill="#3c82c4"/><rect x="1044.0" y="301.95" width="92.8" height="6.90" fill="#d66014"/><rect x="1044.0" y="298.45" width="92.8" height="3.80" fill="#0a508c"/><rect x="1183.7" y="337.75" width="92.8" height="19.05" fill="#76be6c"/><rect x="1183.7" y="334.25" width="92.8" height="3.80" fill="#ee3e3c"/><rect x="1183.7" y="326.25" width="92.8" height="8.30" fill="#1f86de"/><rect x="1183.7" y="312.25" width="92.8" height="14.30" fill="#d638b8"/><rect x="1183.7" y="309.55" width="92.8" height="3.00" fill="#785caa"/><rect x="1183.7" y="301.15" width="92.8" height="8.70" fill="#46943e"/><rect x="1183.7" y="284.55" width="92.8" height="16.90" fill="#dcac08"/><rect x="1183.7" y="276.15" width="92.8" height="8.70" fill="#d66014"/><rect x="1183.7" y="274.15" width="92.8" height="2.30" fill="#0a508c"/><rect x="1183.7" y="96.85" width="92.8" height="177.60" fill="#5c4880"/><rect x="1323.3" y="342.50" width="23.7" height="14.30" fill="#76be6c"/><rect x="1323.3" y="339.50" width="23.7" height="3.30" fill="#ee3e3c"/><rect x="1323.3" y="330.50" width="23.7" height="9.30" fill="#1f86de"/><rect x="1323.3" y="312.50" width="23.7" height="18.30" fill="#d638b8"/><rect x="1323.3" y="303.50" width="23.7" height="9.30" fill="#785caa"/><rect x="1323.3" y="278.50" width="23.7" height="25.30" fill="#46943e"/><rect x="1323.3" y="275.80" width="23.7" height="3.00" fill="#dcac08"/><rect x="1323.3" y="267.80" width="23.7" height="8.30" fill="#d66014"/><rect x="1323.3" y="263.30" width="23.7" height="4.80" fill="#0a508c"/></svg><span class="t" style="left:25.3px;top:57.0px;font-size:17.2px;line-height:17.2px;color:#c8ccd2;-webkit-text-stroke:0.46px;transform:scaleX(0.9393);">1 kW</span><span class="t" style="left:15.5px;top:114.9px;font-size:17.2px;line-height:17.2px;color:#c8ccd2;-webkit-text-stroke:0.46px;transform:scaleX(0.9368);">800 W</span><span class="t" style="left:15.5px;top:172.8px;font-size:17.2px;line-height:17.2px;color:#c8ccd2;-webkit-text-stroke:0.46px;transform:scaleX(0.9368);">600 W</span><span class="t" style="left:15.5px;top:230.7px;font-size:17.2px;line-height:17.2px;color:#c8ccd2;-webkit-text-stroke:0.46px;transform:scaleX(0.9368);">400 W</span><span class="t" style="left:15.5px;top:288.6px;font-size:17.2px;line-height:17.2px;color:#c8ccd2;-webkit-text-stroke:0.46px;transform:scaleX(0.9368);">200 W</span><span class="t" style="left:34.5px;top:346.5px;font-size:17.2px;line-height:17.2px;color:#c8ccd2;-webkit-text-stroke:0.46px;transform:scaleX(0.9026);">0 W</span><span class="t" style="left:185.2px;top:368.5px;font-size:17.2px;line-height:17.2px;color:#c8ccd2;-webkit-text-stroke:0.46px;transform:scaleX(0.9880);">01:00</span><span class="t" style="left:324.9px;top:368.5px;font-size:17.2px;line-height:17.2px;color:#c8ccd2;-webkit-text-stroke:0.46px;transform:scaleX(0.9880);">02:00</span><span class="t" style="left:464.5px;top:368.5px;font-size:17.2px;line-height:17.2px;color:#c8ccd2;-webkit-text-stroke:0.46px;transform:scaleX(0.9880);">03:00</span><span class="t" style="left:604.2px;top:368.5px;font-size:17.2px;line-height:17.2px;color:#c8ccd2;-webkit-text-stroke:0.46px;transform:scaleX(0.9880);">04:00</span><span class="t" style="left:743.8px;top:368.5px;font-size:17.2px;line-height:17.2px;color:#c8ccd2;-webkit-text-stroke:0.46px;transform:scaleX(0.9880);">05:00</span><span class="t" style="left:883.5px;top:368.5px;font-size:17.2px;line-height:17.2px;color:#c8ccd2;-webkit-text-stroke:0.46px;transform:scaleX(0.9880);">06:00</span><span class="t" style="left:1023.1px;top:368.5px;font-size:17.2px;line-height:17.2px;color:#c8ccd2;-webkit-text-stroke:0.46px;transform:scaleX(0.9880);">07:00</span><span class="t" style="left:1162.8px;top:368.5px;font-size:17.2px;line-height:17.2px;color:#c8ccd2;-webkit-text-stroke:0.46px;transform:scaleX(0.9880);">08:00</span><span class="t" style="left:1302.4px;top:368.5px;font-size:17.2px;line-height:17.2px;color:#c8ccd2;-webkit-text-stroke:0.46px;transform:scaleX(0.9880);">09:00</span><i class="sw" style="left:27.2px;top:411.1px;background:#76be6c"></i><span class="t" style="left:60.5px;top:403.7px;font-size:17.2px;line-height:17.2px;color:#d8d9da;-webkit-text-stroke:0.46px;transform:scaleX(1.0245);">AC #1 1Min</span><i class="sw" style="left:167.1px;top:411.1px;background:#f2c40c"></i><span class="t" style="left:200.5px;top:403.7px;font-size:17.2px;line-height:17.2px;color:#d8d9da;-webkit-text-stroke:0.46px;transform:scaleX(1.0145);">AC #2 1Min</span><i class="sw" style="left:306.8px;top:411.1px;background:#48d0e2"></i><span class="t" style="left:338.6px;top:403.7px;font-size:17.2px;line-height:17.2px;color:#d8d9da;-webkit-text-stroke:0.46px;transform:scaleX(1.0350);">Dishwasher 1Min</span><i class="sw" style="left:490.2px;top:411.1px;background:#f5802d"></i><span class="t" style="left:522.3px;top:403.7px;font-size:17.2px;line-height:17.2px;color:#d8d9da;-webkit-text-stroke:0.46px;transform:scaleX(1.0223);">Dryer 1Min</span><i class="sw" style="left:622.8px;top:411.1px;background:#ee3e3c"></i><span class="t" style="left:655.2px;top:403.7px;font-size:17.2px;line-height:17.2px;color:#d8d9da;-webkit-text-stroke:0.46px;transform:scaleX(1.0236);">Electric Furnace 1Min</span><i class="sw" style="left:840.8px;top:411.1px;background:#1f86de"></i><span class="t" style="left:873.3px;top:403.7px;font-size:17.2px;line-height:17.2px;color:#d8d9da;-webkit-text-stroke:0.46px;transform:scaleX(1.0058);">Gas Furnace 1Min</span><i class="sw" style="left:1030.3px;top:411.1px;background:#d638b8"></i><span class="t" style="left:1063.5px;top:403.7px;font-size:17.2px;line-height:17.2px;color:#d8d9da;-webkit-text-stroke:0.46px;transform:scaleX(1.0197);">Guest Bedroom 1Min</span><i class="sw" style="left:27.2px;top:437.4px;background:#785caa"></i><span class="t" style="left:59.5px;top:430.1px;font-size:17.2px;line-height:17.2px;color:#d8d9da;-webkit-text-stroke:0.46px;transform:scaleX(1.0452);">Kitchen 1Min</span><i class="sw" style="left:178.0px;top:437.4px;background:#46943e"></i><span class="t" style="left:210.4px;top:430.1px;font-size:17.2px;line-height:17.2px;color:#d8d9da;-webkit-text-stroke:0.46px;transform:scaleX(1.0296);">Living Room 1Min</span><i class="sw" style="left:366.6px;top:437.4px;background:#dcac08"></i><span class="t" style="left:399.2px;top:430.1px;font-size:17.2px;line-height:17.2px;color:#d8d9da;-webkit-text-stroke:0.46px;transform:scaleX(1.0436);">Master Bedroom 1Min</span><i class="sw" style="left:590.2px;top:437.4px;background:#3c82c4"></i><span class="t" style="left:622.6px;top:430.1px;font-size:17.2px;line-height:17.2px;color:#d8d9da;-webkit-text-stroke:0.46px;transform:scaleX(1.0342);">Media Room 1Min</span><i class="sw" style="left:782.0px;top:437.4px;background:#d66014"></i><span class="t" style="left:814.1px;top:430.1px;font-size:17.2px;line-height:17.2px;color:#d8d9da;-webkit-text-stroke:0.46px;transform:scaleX(1.0368);">Office 1Min</span><i class="sw" style="left:919.0px;top:437.4px;background:#96140a"></i><span class="t" style="left:951.6px;top:430.1px;font-size:17.2px;line-height:17.2px;color:#d8d9da;-webkit-text-stroke:0.46px;transform:scaleX(1.0070);">Oven 1Min</span><i class="sw" style="left:1050.0px;top:437.4px;background:#0a508c"></i><span class="t" style="left:1082.2px;top:430.1px;font-size:17.2px;line-height:17.2px;color:#d8d9da;-webkit-text-stroke:0.46px;transform:scaleX(1.0323);">Refridgerator 1Min</span><i class="sw" style="left:27.2px;top:463.8px;background:#781e6e"></i><span class="t" style="left:60.5px;top:456.4px;font-size:17.2px;line-height:17.2px;color:#d8d9da;-webkit-text-stroke:0.46px;transform:scaleX(1.0218);">Washer 1Min</span><i class="sw" style="left:178.0px;top:463.8px;background:#5c4880"></i><span class="t" style="left:211.4px;top:456.4px;font-size:17.2px;line-height:17.2px;color:#d8d9da;-webkit-text-stroke:0.46px;transform:scaleX(1.0223);">Water Heater 1Min</span></section><section class="panel" style="left:1504px;top:873px;width:1383.5px;height:324px"><span class="t" style="left:577.6px;top:12.1px;font-size:20px;line-height:20px;color:#d8dade;font-weight:700;transform:scaleX(0.9588);">Top 5 Devices Last Week</span><svg class="ic" style="left:1256.4px;top:12.1px" width="19" height="19" viewBox="0 0 24 24" ><g fill="none" stroke="#3aa8e6" stroke-width="2.1" stroke-linecap="round" stroke-linejoin="round"><circle cx="12" cy="12" r="10"/><path d="M12 6.500V12H7.500"/></g></svg><span class="t" style="left:1280.1px;top:13.3px;font-size:16.6px;line-height:16.6px;color:#3aa8e6;font-weight:700;">Last 7 days</span><svg class="ic" style="left:814.1px;top:16.1px" width="15" height="15" viewBox="0 0 24 24" ><g fill="none" stroke="#9a9fa8" stroke-width="2.2" stroke-linecap="round" stroke-linejoin="round"><path d="M6.500 9.500l5.500 5.500 5.500-5.500"/></g></svg><svg class="ic" style="left:0;top:0" width="1383" height="324" viewBox="0 0 1383 324"><path d="M521.8 168.8L521.80 69.20A99.6 99.6 0 0 1 585.69 245.21Z" fill="#73b868" stroke="#15160f" stroke-width="2" stroke-linejoin="round"/><path d="M521.8 168.8L585.69 245.21A99.6 99.6 0 0 1 478.59 258.54Z" fill="#f4be0c" stroke="#15160f" stroke-width="2" stroke-linejoin="round"/><path d="M521.8 168.8L478.59 258.54A99.6 99.6 0 0 1 422.44 175.73Z" fill="#48d4e8" stroke="#15160f" stroke-width="2" stroke-linejoin="round"/><path d="M521.8 168.8L422.44 175.73A99.6 99.6 0 0 1 461.52 89.51Z" fill="#ff8020" stroke="#15160f" stroke-width="2" stroke-linejoin="round"/><path d="M521.8 168.8L461.52 89.51A99.6 99.6 0 0 1 521.80 69.20Z" fill="#f03c38" stroke="#15160f" stroke-width="2" stroke-linejoin="round"/></svg><span class="t" style="left:1289.9px;top:67.0px;font-size:17.2px;line-height:17.2px;color:#2ba3e3;font-weight:700;transform:scaleX(1.0421);">total</span><i class="sw" style="left:1051.6px;top:106.7px;width:20.200px;background:#73b868"></i><span class="t" style="left:1081.1px;top:97.7px;font-size:17.2px;line-height:17.2px;color:#d8d9da;-webkit-text-stroke:0.46px;transform:scaleX(0.9964);">Water Heater 1D</span><span class="t" style="left:1269.8px;top:97.7px;font-size:17.2px;line-height:17.2px;color:#d8d9da;-webkit-text-stroke:0.46px;transform:scaleX(0.9850);">79 kWh</span><div class="zebra" style="left:1051.6px;top:123.9px;width:290.600px;height:30.700px"></div><i class="sw" style="left:1051.6px;top:139.2px;width:20.200px;background:#f4be0c"></i><span class="t" style="left:1080.1px;top:130.2px;font-size:17.2px;line-height:17.2px;color:#d8d9da;-webkit-text-stroke:0.46px;transform:scaleX(1.0062);">Electric Furnace 1D</span><span class="t" style="left:1269.8px;top:130.2px;font-size:17.2px;line-height:17.2px;color:#d8d9da;-webkit-text-stroke:0.46px;transform:scaleX(0.9850);">37 kWh</span><i class="sw" style="left:1051.6px;top:171.7px;width:20.200px;background:#48d4e8"></i><span class="t" style="left:1081.1px;top:162.7px;font-size:17.2px;line-height:17.2px;color:#d8d9da;-webkit-text-stroke:0.46px;transform:scaleX(0.9843);">AC #1 1D</span><span class="t" style="left:1269.8px;top:162.7px;font-size:17.2px;line-height:17.2px;color:#d8d9da;-webkit-text-stroke:0.46px;transform:scaleX(0.9850);">34 kWh</span><div class="zebra" style="left:1051.6px;top:188.9px;width:290.600px;height:30.700px"></div><i class="sw" style="left:1051.6px;top:204.2px;width:20.200px;background:#ff8020"></i><span class="t" style="left:1080.1px;top:195.2px;font-size:17.2px;line-height:17.2px;color:#d8d9da;-webkit-text-stroke:0.46px;transform:scaleX(1.0080);">Living Room 1D</span><span class="t" style="left:1269.8px;top:195.2px;font-size:17.2px;line-height:17.2px;color:#d8d9da;-webkit-text-stroke:0.46px;transform:scaleX(0.9850);">32 kWh</span><i class="sw" style="left:1051.6px;top:236.7px;width:20.200px;background:#f03c38"></i><span class="t" style="left:1081.1px;top:227.7px;font-size:17.2px;line-height:17.2px;color:#d8d9da;-webkit-text-stroke:0.46px;transform:scaleX(0.9891);">Office 1D</span><span class="t" style="left:1269.8px;top:227.7px;font-size:17.2px;line-height:17.2px;color:#d8d9da;-webkit-text-stroke:0.46px;transform:scaleX(0.9850);">21 kWh</span><svg class="ic" style="left:1369px;top:311px" width="9" height="9" viewBox="0 0 9 9"><path d="M8 1v7H1" fill="none" stroke="#555a63" stroke-width="1.500"/></svg></section><section class="panel" style="left:110px;top:1155.5px;width:1382px;height:436.5px"><span class="t" style="left:573.4px;top:10.0px;font-size:20px;line-height:20px;color:#d8dade;font-weight:700;transform:scaleX(0.9758);">Last 7 days Power Usage</span><svg class="ic" style="left:1255.7px;top:11.1px" width="19" height="19" viewBox="0 0 24 24" ><g fill="none" stroke="#3aa8e6" stroke-width="2.1" stroke-linecap="round" stroke-linejoin="round"><circle cx="12" cy="12" r="10"/><path d="M12 6.500V12H7.500"/></g></svg><span class="t" style="left:1279.4px;top:12.3px;font-size:16.6px;line-height:16.6px;color:#3aa8e6;font-weight:700;">Last 7 days</span><svg class="ic" style="left:0;top:0" width="1382" height="436" viewBox="0 0 1382 436"><path d="M42.6 66.3H1370.5" stroke="#33353a" stroke-width="2"/><path d="M42.6 143.0H1370.5" stroke="#33353a" stroke-width="2"/><path d="M42.6 219.8H1370.5" stroke="#33353a" stroke-width="2"/><path d="M42.6 296.5H1370.5" stroke="#33353a" stroke-width="2"/><path d="M42.6 373.3H1370.5" stroke="#33353a" stroke-width="2"/><rect x="42.6" y="329.5" width="53.9" height="43.8" fill="#70b866"/><rect x="159.7" y="357.8" width="127.2" height="15.5" fill="#70b866"/><rect x="349.5" y="316.1" width="127.2" height="57.2" fill="#70b866"/><rect x="539.3" y="271.2" width="127.2" height="102.1" fill="#70b866"/><rect x="729.1" y="354.5" width="127.2" height="18.8" fill="#70b866"/><rect x="918.9" y="255.5" width="127.2" height="117.8" fill="#70b866"/><rect x="1108.7" y="72.5" width="127.2" height="300.8" fill="#70b866"/><rect x="1298.5" y="132.9" width="72.0" height="240.4" fill="#70b866"/></svg><span class="t" style="left:15.0px;top:57.3px;font-size:17.2px;line-height:17.2px;color:#c8ccd2;-webkit-text-stroke:0.46px;transform:scaleX(1.0251);">70</span><span class="t" style="left:15.0px;top:134.1px;font-size:17.2px;line-height:17.2px;color:#c8ccd2;-webkit-text-stroke:0.46px;transform:scaleX(1.0251);">60</span><span class="t" style="left:15.0px;top:210.8px;font-size:17.2px;line-height:17.2px;color:#c8ccd2;-webkit-text-stroke:0.46px;transform:scaleX(1.0251);">50</span><span class="t" style="left:15.0px;top:287.6px;font-size:17.2px;line-height:17.2px;color:#c8ccd2;-webkit-text-stroke:0.46px;transform:scaleX(1.0251);">40</span><span class="t" style="left:15.0px;top:364.3px;font-size:17.2px;line-height:17.2px;color:#c8ccd2;-webkit-text-stroke:0.46px;transform:scaleX(1.0251);">30</span><i class="sw" style="left:27.0px;top:409.5px;background:#70b866"></i><span class="t" style="left:60.6px;top:400.2px;font-size:17.2px;line-height:17.2px;color:#d8d9da;-webkit-text-stroke:0.46px;transform:scaleX(1.0206);">Total Power 1D</span></section><section class="panel" style="left:1504px;top:1210px;width:1383.5px;height:382px"><span class="t" style="left:577.5px;top:11.7px;font-size:20px;line-height:20px;color:#d8dade;font-weight:700;transform:scaleX(0.9678);">Power Spikes This Week</span><svg class="ic" style="left:1256.4px;top:12.6px" width="19" height="19" viewBox="0 0 24 24" ><g fill="none" stroke="#3aa8e6" stroke-width="2.1" stroke-linecap="round" stroke-linejoin="round"><circle cx="12" cy="12" r="10"/><path d="M12 6.500V12H7.500"/></g></svg><span class="t" style="left:1280.1px;top:13.8px;font-size:16.6px;line-height:16.6px;color:#3aa8e6;font-weight:700;">Last 7 days</span><svg class="ic" style="left:0;top:0" width="1383" height="381" viewBox="0 0 1383 381"><path d="M105 108.3H1358" stroke="#202226" stroke-width="1.600"/><path d="M105 193.0H1358" stroke="#202226" stroke-width="1.600"/><path d="M126.2 66V278" stroke="#1b1d21" stroke-width="1.600"/><path d="M215.8 66V278" stroke="#1b1d21" stroke-width="1.600"/><path d="M305.4 66V278" stroke="#1b1d21" stroke-width="1.600"/><path d="M395.0 66V278" stroke="#1b1d21" stroke-width="1.600"/><path d="M484.6 66V278" stroke="#1b1d21" stroke-width="1.600"/><path d="M574.2 66V278" stroke="#1b1d21" stroke-width="1.600"/><path d="M663.8 66V278" stroke="#1b1d21" stroke-width="1.600"/><path d="M753.4 66V278" stroke="#1b1d21" stroke-width="1.600"/><path d="M843.0 66V278" stroke="#1b1d21" stroke-width="1.600"/><path d="M932.6 66V278" stroke="#1b1d21" stroke-width="1.600"/><path d="M1022.2 66V278" stroke="#1b1d21" stroke-width="1.600"/><path d="M1111.8 66V278" stroke="#1b1d21" stroke-width="1.600"/><path d="M1201.4 66V278" stroke="#1b1d21" stroke-width="1.600"/><path d="M1291.0 66V278" stroke="#1b1d21" stroke-width="1.600"/><polygon points="104.6,278.2 104.6,234.2 107.6,233.5 109.1,239.5 110.7,261.5 115.2,262.3 119.8,258.5 123.6,255.5 126.6,252.4 129.6,254.7 133.4,260.8 137.2,257.8 140.3,257.8 144.1,255.9 148.6,257.8 153.2,260.8 156.2,263.1 160.8,258.5 164.6,255.5 166.1,245.6 169.1,244.9 172.1,247.1 173.7,256.2 175.9,227.4 179.0,210.7 180.5,208.4 182.8,218.3 185.8,235.0 188.1,245.6 189.6,239.5 191.9,239.5 194.2,219.8 197.2,181.9 199.5,154.5 201.4,147.7 203.3,153.0 205.5,189.4 207.8,235.0 210.1,263.8 212.4,266.9 214.6,266.1 216.9,257.8 220.0,257.0 223.0,259.3 225.3,265.3 227.6,260.8 230.6,262.3 234.4,269.1 236.7,262.3 240.5,260.0 242.0,247.1 245.0,244.1 248.8,245.6 250.6,262.3 253.4,261.5 256.4,260.8 258.7,242.6 261.7,237.3 264.0,239.5 265.2,245.6 267.0,212.2 269.3,197.0 271.9,192.5 273.9,200.1 275.4,221.3 277.3,233.5 279.2,218.3 281.4,210.7 284.5,209.2 286.0,213.7 288.0,247.1 290.5,253.2 294.3,259.3 297.4,251.7 301.2,243.3 304.2,241.8 307.2,244.9 311.0,256.2 314.8,260.8 318.6,261.5 320.5,253.2 324.7,252.4 327.0,246.4 331.5,244.9 335.3,249.4 339.9,251.7 341.4,257.0 347.5,257.0 349.0,251.7 352.8,252.4 355.1,257.8 357.3,263.1 360.4,256.2 363.4,250.2 365.7,228.9 368.0,201.6 370.2,177.3 372.1,183.4 374.0,173.5 375.6,177.3 377.1,204.6 379.0,221.3 380.9,219.8 382.7,207.7 384.7,206.9 386.9,213.7 388.5,242.6 390.0,260.8 392.3,257.0 394.5,256.2 397.6,260.8 400.6,266.9 403.6,258.5 407.0,257.0 410.0,263.1 413.8,260.8 417.6,261.5 420.7,265.3 422.2,257.8 426.0,254.0 427.5,247.1 430.5,244.9 433.1,239.5 435.8,242.6 438.1,247.1 439.6,257.8 442.7,260.8 444.6,235.0 446.5,210.7 448.7,206.9 451.0,210.7 453.3,231.9 455.6,244.1 457.1,227.4 458.6,189.4 460.9,178.8 462.4,178.1 464.4,184.9 465.9,212.2 467.7,236.5 470.8,238.8 473.0,238.8 475.0,235.7 476.8,241.1 479.1,247.1 481.4,247.9 483.7,233.5 485.9,215.2 488.2,207.7 490.2,212.2 492.0,225.9 493.5,234.2 497.3,233.5 498.8,227.4 501.1,222.8 502.9,228.9 504.9,222.8 506.4,228.9 508.7,236.5 513.3,242.6 517.1,247.1 520.1,241.8 523.1,238.8 525.4,242.6 528.4,248.6 533.0,254.0 536.0,254.0 538.3,235.0 540.6,204.6 542.9,177.3 545.1,162.1 547.0,159.1 548.5,174.3 550.0,175.8 551.5,163.6 553.0,174.3 555.0,197.0 556.5,219.8 558.0,250.2 559.6,260.8 563.4,264.6 567.9,266.9 572.5,266.9 577.0,265.3 581.6,265.3 584.6,267.6 587.6,262.3 590.7,261.5 593.7,265.3 596.0,269.1 597.5,254.7 599.8,245.6 602.1,244.1 603.9,248.6 605.1,257.8 607.4,263.1 609.7,251.7 612.7,249.4 614.7,253.2 616.5,265.3 618.3,266.9 620.3,259.3 622.6,254.7 624.8,227.4 627.1,197.0 628.6,180.3 630.1,176.5 631.7,183.4 633.9,204.6 636.2,228.9 638.5,236.5 640.5,233.5 642.3,239.5 644.1,245.6 646.8,238.8 649.9,236.5 652.2,236.5 653.7,242.6 656.7,245.6 660.5,247.1 664.3,249.4 668.1,254.7 671.9,250.2 673.9,248.6 675.4,236.5 677.2,235.7 679.5,238.8 681.5,240.3 682.5,256.2 684.8,258.5 686.3,250.9 689.4,249.4 691.6,252.4 693.1,257.8 696.2,256.2 697.7,246.4 700.7,242.6 703.0,244.1 705.3,251.7 706.8,257.8 710.6,254.7 713.6,247.9 716.7,244.9 717.0,244.9 720.0,244.1 723.8,240.3 726.9,242.6 729.9,245.6 731.4,231.9 733.7,228.9 736.0,231.2 737.5,242.6 739.8,254.7 743.6,258.5 745.8,254.0 748.1,259.3 753.4,261.5 757.2,258.5 760.3,259.3 762.5,250.2 765.6,242.6 767.9,244.9 770.1,259.3 772.0,266.9 774.7,260.8 778.5,258.5 780.0,244.9 783.0,241.8 786.1,244.9 787.6,259.3 789.9,262.3 793.7,257.8 795.2,236.5 798.2,234.2 801.3,236.5 802.8,254.7 804.3,242.6 806.6,237.3 808.8,235.7 810.4,247.1 811.4,262.3 812.9,219.8 814.9,174.3 817.2,156.0 821.0,154.5 822.5,166.7 824.0,187.9 826.3,191.0 827.8,204.6 829.6,231.9 833.1,239.5 835.4,228.9 837.7,217.5 840.0,219.8 842.2,230.4 844.5,244.1 847.6,239.5 851.3,245.6 854.4,256.2 857.4,257.0 860.5,254.7 862.7,242.6 865.0,212.2 866.5,201.6 868.8,200.8 870.3,189.4 872.1,187.9 874.1,194.0 875.6,207.7 877.9,231.9 879.4,253.2 883.2,256.2 885.5,263.8 888.5,265.3 894.6,266.9 896.9,257.8 899.2,227.4 901.4,197.0 903.7,174.3 905.5,171.2 907.5,181.9 909.8,212.2 912.1,236.5 914.3,241.1 917.4,247.1 921.2,247.1 923.5,241.1 925.7,224.4 928.0,221.3 930.3,224.4 932.6,235.0 935.6,239.5 937.9,241.8 940.1,236.5 942.4,241.8 945.5,241.8 947.0,224.4 948.5,241.1 950.8,241.1 952.3,227.4 953.5,241.1 956.1,241.1 958.4,226.6 959.6,241.1 961.4,241.1 963.2,211.5 965.2,235.0 966.7,233.5 968.2,214.5 970.2,239.5 972.8,239.5 974.6,228.2 975.8,240.3 978.9,240.3 980.8,221.3 982.4,242.6 984.2,227.4 986.0,216.8 988.0,204.6 990.2,142.4 992.5,136.3 994.8,125.7 996.0,122.6 997.8,131.8 999.4,165.2 1000.9,183.4 1003.9,191.0 1006.9,198.6 1009.2,207.7 1011.2,221.3 1013.8,222.8 1016.1,225.9 1018.3,189.4 1020.6,143.9 1022.4,127.2 1024.4,125.7 1025.9,131.8 1027.4,174.3 1028.5,204.7 1030.8,235.0 1033.8,241.1 1037.6,247.2 1040.7,253.3 1044.5,257.8 1048.3,261.6 1053.6,260.9 1057.4,266.2 1061.2,267.7 1063.4,257.8 1067.2,251.8 1071.0,247.2 1073.3,236.6 1075.6,230.5 1077.9,189.5 1080.2,128.7 1082.0,99.9 1083.5,100.6 1084.7,128.7 1086.2,166.7 1087.7,143.9 1089.3,110.5 1091.5,104.4 1093.1,87.0 1094.6,86.2 1096.1,106.0 1097.6,143.9 1099.9,174.3 1101.4,197.1 1102.9,227.5 1104.4,234.3 1109.0,236.6 1113.6,239.6 1116.6,235.8 1120.4,234.3 1123.4,232.0 1125.7,232.0 1127.5,227.5 1129.5,233.5 1131.8,238.8 1135.6,239.6 1137.9,221.4 1140.9,215.3 1143.2,219.9 1145.5,232.0 1149.2,235.0 1153.0,240.4 1156.1,250.2 1159.1,257.8 1162.2,262.4 1164.4,253.3 1166.0,235.0 1167.5,204.7 1169.7,174.3 1171.6,166.7 1173.5,174.3 1175.1,191.0 1177.3,198.6 1179.6,204.7 1181.9,205.4 1183.1,200.1 1184.9,218.3 1186.5,209.2 1188.0,197.1 1190.2,195.6 1191.8,183.4 1194.0,174.3 1195.6,172.8 1197.1,180.4 1199.4,177.3 1200.4,160.6 1202.4,159.1 1203.9,174.3 1206.2,192.5 1208.5,219.9 1210.8,235.0 1213.8,246.4 1216.1,238.8 1220.6,235.8 1222.9,232.8 1224.4,238.1 1226.2,232.0 1227.5,219.1 1229.7,225.9 1232.0,204.7 1233.5,192.5 1235.0,174.3 1236.9,169.0 1238.8,177.3 1240.4,197.1 1241.9,219.9 1243.4,242.6 1244.5,257.8 1246.0,233.5 1249.5,231.2 1251.0,204.7 1252.1,192.5 1253.6,204.7 1255.1,194.0 1256.6,197.1 1258.1,219.9 1260.1,236.6 1263.1,239.6 1265.4,219.9 1266.9,174.3 1268.5,160.6 1271.5,159.1 1273.3,166.7 1274.5,204.7 1276.1,242.6 1278.3,253.3 1280.6,262.4 1282.9,250.2 1285.2,236.6 1286.7,235.8 1288.5,245.7 1291.2,253.3 1294.3,262.4 1298.8,259.3 1301.9,261.6 1304.1,268.5 1306.1,267.7 1307.2,260.1 1311.0,260.1 1313.3,263.9 1315.5,270.0 1317.8,261.6 1320.8,259.3 1323.9,254.8 1326.9,257.1 1329.2,257.8 1331.5,266.2 1333.8,262.4 1337.6,261.6 1339.8,265.4 1342.1,259.3 1343.6,235.0 1345.1,204.7 1346.7,186.5 1348.9,180.4 1351.2,186.5 1352.7,204.7 1354.3,227.5 1355.8,242.6 1357.8,244.9 1357.8,278.2" fill="#73bf69" fill-opacity="0.57"/><polyline points="104.6,234.2 107.6,233.5 109.1,239.5 110.7,261.5 115.2,262.3 119.8,258.5 123.6,255.5 126.6,252.4 129.6,254.7 133.4,260.8 137.2,257.8 140.3,257.8 144.1,255.9 148.6,257.8 153.2,260.8 156.2,263.1 160.8,258.5 164.6,255.5 166.1,245.6 169.1,244.9 172.1,247.1 173.7,256.2 175.9,227.4 179.0,210.7 180.5,208.4 182.8,218.3 185.8,235.0 188.1,245.6 189.6,239.5 191.9,239.5 194.2,219.8 197.2,181.9 199.5,154.5 201.4,147.7 203.3,153.0 205.5,189.4 207.8,235.0 210.1,263.8 212.4,266.9 214.6,266.1 216.9,257.8 220.0,257.0 223.0,259.3 225.3,265.3 227.6,260.8 230.6,262.3 234.4,269.1 236.7,262.3 240.5,260.0 242.0,247.1 245.0,244.1 248.8,245.6 250.6,262.3 253.4,261.5 256.4,260.8 258.7,242.6 261.7,237.3 264.0,239.5 265.2,245.6 267.0,212.2 269.3,197.0 271.9,192.5 273.9,200.1 275.4,221.3 277.3,233.5 279.2,218.3 281.4,210.7 284.5,209.2 286.0,213.7 288.0,247.1 290.5,253.2 294.3,259.3 297.4,251.7 301.2,243.3 304.2,241.8 307.2,244.9 311.0,256.2 314.8,260.8 318.6,261.5 320.5,253.2 324.7,252.4 327.0,246.4 331.5,244.9 335.3,249.4 339.9,251.7 341.4,257.0 347.5,257.0 349.0,251.7 352.8,252.4 355.1,257.8 357.3,263.1 360.4,256.2 363.4,250.2 365.7,228.9 368.0,201.6 370.2,177.3 372.1,183.4 374.0,173.5 375.6,177.3 377.1,204.6 379.0,221.3 380.9,219.8 382.7,207.7 384.7,206.9 386.9,213.7 388.5,242.6 390.0,260.8 392.3,257.0 394.5,256.2 397.6,260.8 400.6,266.9 403.6,258.5 407.0,257.0 410.0,263.1 413.8,260.8 417.6,261.5 420.7,265.3 422.2,257.8 426.0,254.0 427.5,247.1 430.5,244.9 433.1,239.5 435.8,242.6 438.1,247.1 439.6,257.8 442.7,260.8 444.6,235.0 446.5,210.7 448.7,206.9 451.0,210.7 453.3,231.9 455.6,244.1 457.1,227.4 458.6,189.4 460.9,178.8 462.4,178.1 464.4,184.9 465.9,212.2 467.7,236.5 470.8,238.8 473.0,238.8 475.0,235.7 476.8,241.1 479.1,247.1 481.4,247.9 483.7,233.5 485.9,215.2 488.2,207.7 490.2,212.2 492.0,225.9 493.5,234.2 497.3,233.5 498.8,227.4 501.1,222.8 502.9,228.9 504.9,222.8 506.4,228.9 508.7,236.5 513.3,242.6 517.1,247.1 520.1,241.8 523.1,238.8 525.4,242.6 528.4,248.6 533.0,254.0 536.0,254.0 538.3,235.0 540.6,204.6 542.9,177.3 545.1,162.1 547.0,159.1 548.5,174.3 550.0,175.8 551.5,163.6 553.0,174.3 555.0,197.0 556.5,219.8 558.0,250.2 559.6,260.8 563.4,264.6 567.9,266.9 572.5,266.9 577.0,265.3 581.6,265.3 584.6,267.6 587.6,262.3 590.7,261.5 593.7,265.3 596.0,269.1 597.5,254.7 599.8,245.6 602.1,244.1 603.9,248.6 605.1,257.8 607.4,263.1 609.7,251.7 612.7,249.4 614.7,253.2 616.5,265.3 618.3,266.9 620.3,259.3 622.6,254.7 624.8,227.4 627.1,197.0 628.6,180.3 630.1,176.5 631.7,183.4 633.9,204.6 636.2,228.9 638.5,236.5 640.5,233.5 642.3,239.5 644.1,245.6 646.8,238.8 649.9,236.5 652.2,236.5 653.7,242.6 656.7,245.6 660.5,247.1 664.3,249.4 668.1,254.7 671.9,250.2 673.9,248.6 675.4,236.5 677.2,235.7 679.5,238.8 681.5,240.3 682.5,256.2 684.8,258.5 686.3,250.9 689.4,249.4 691.6,252.4 693.1,257.8 696.2,256.2 697.7,246.4 700.7,242.6 703.0,244.1 705.3,251.7 706.8,257.8 710.6,254.7 713.6,247.9 716.7,244.9 717.0,244.9 720.0,244.1 723.8,240.3 726.9,242.6 729.9,245.6 731.4,231.9 733.7,228.9 736.0,231.2 737.5,242.6 739.8,254.7 743.6,258.5 745.8,254.0 748.1,259.3 753.4,261.5 757.2,258.5 760.3,259.3 762.5,250.2 765.6,242.6 767.9,244.9 770.1,259.3 772.0,266.9 774.7,260.8 778.5,258.5 780.0,244.9 783.0,241.8 786.1,244.9 787.6,259.3 789.9,262.3 793.7,257.8 795.2,236.5 798.2,234.2 801.3,236.5 802.8,254.7 804.3,242.6 806.6,237.3 808.8,235.7 810.4,247.1 811.4,262.3 812.9,219.8 814.9,174.3 817.2,156.0 821.0,154.5 822.5,166.7 824.0,187.9 826.3,191.0 827.8,204.6 829.6,231.9 833.1,239.5 835.4,228.9 837.7,217.5 840.0,219.8 842.2,230.4 844.5,244.1 847.6,239.5 851.3,245.6 854.4,256.2 857.4,257.0 860.5,254.7 862.7,242.6 865.0,212.2 866.5,201.6 868.8,200.8 870.3,189.4 872.1,187.9 874.1,194.0 875.6,207.7 877.9,231.9 879.4,253.2 883.2,256.2 885.5,263.8 888.5,265.3 894.6,266.9 896.9,257.8 899.2,227.4 901.4,197.0 903.7,174.3 905.5,171.2 907.5,181.9 909.8,212.2 912.1,236.5 914.3,241.1 917.4,247.1 921.2,247.1 923.5,241.1 925.7,224.4 928.0,221.3 930.3,224.4 932.6,235.0 935.6,239.5 937.9,241.8 940.1,236.5 942.4,241.8 945.5,241.8 947.0,224.4 948.5,241.1 950.8,241.1 952.3,227.4 953.5,241.1 956.1,241.1 958.4,226.6 959.6,241.1 961.4,241.1 963.2,211.5 965.2,235.0 966.7,233.5 968.2,214.5 970.2,239.5 972.8,239.5 974.6,228.2 975.8,240.3 978.9,240.3 980.8,221.3 982.4,242.6 984.2,227.4 986.0,216.8 988.0,204.6 990.2,142.4 992.5,136.3 994.8,125.7 996.0,122.6 997.8,131.8 999.4,165.2 1000.9,183.4 1003.9,191.0 1006.9,198.6 1009.2,207.7 1011.2,221.3 1013.8,222.8 1016.1,225.9 1018.3,189.4 1020.6,143.9 1022.4,127.2 1024.4,125.7 1025.9,131.8 1027.4,174.3 1028.5,204.7 1030.8,235.0 1033.8,241.1 1037.6,247.2 1040.7,253.3 1044.5,257.8 1048.3,261.6 1053.6,260.9 1057.4,266.2 1061.2,267.7 1063.4,257.8 1067.2,251.8 1071.0,247.2 1073.3,236.6 1075.6,230.5 1077.9,189.5 1080.2,128.7 1082.0,99.9 1083.5,100.6 1084.7,128.7 1086.2,166.7 1087.7,143.9 1089.3,110.5 1091.5,104.4 1093.1,87.0 1094.6,86.2 1096.1,106.0 1097.6,143.9 1099.9,174.3 1101.4,197.1 1102.9,227.5 1104.4,234.3 1109.0,236.6 1113.6,239.6 1116.6,235.8 1120.4,234.3 1123.4,232.0 1125.7,232.0 1127.5,227.5 1129.5,233.5 1131.8,238.8 1135.6,239.6 1137.9,221.4 1140.9,215.3 1143.2,219.9 1145.5,232.0 1149.2,235.0 1153.0,240.4 1156.1,250.2 1159.1,257.8 1162.2,262.4 1164.4,253.3 1166.0,235.0 1167.5,204.7 1169.7,174.3 1171.6,166.7 1173.5,174.3 1175.1,191.0 1177.3,198.6 1179.6,204.7 1181.9,205.4 1183.1,200.1 1184.9,218.3 1186.5,209.2 1188.0,197.1 1190.2,195.6 1191.8,183.4 1194.0,174.3 1195.6,172.8 1197.1,180.4 1199.4,177.3 1200.4,160.6 1202.4,159.1 1203.9,174.3 1206.2,192.5 1208.5,219.9 1210.8,235.0 1213.8,246.4 1216.1,238.8 1220.6,235.8 1222.9,232.8 1224.4,238.1 1226.2,232.0 1227.5,219.1 1229.7,225.9 1232.0,204.7 1233.5,192.5 1235.0,174.3 1236.9,169.0 1238.8,177.3 1240.4,197.1 1241.9,219.9 1243.4,242.6 1244.5,257.8 1246.0,233.5 1249.5,231.2 1251.0,204.7 1252.1,192.5 1253.6,204.7 1255.1,194.0 1256.6,197.1 1258.1,219.9 1260.1,236.6 1263.1,239.6 1265.4,219.9 1266.9,174.3 1268.5,160.6 1271.5,159.1 1273.3,166.7 1274.5,204.7 1276.1,242.6 1278.3,253.3 1280.6,262.4 1282.9,250.2 1285.2,236.6 1286.7,235.8 1288.5,245.7 1291.2,253.3 1294.3,262.4 1298.8,259.3 1301.9,261.6 1304.1,268.5 1306.1,267.7 1307.2,260.1 1311.0,260.1 1313.3,263.9 1315.5,270.0 1317.8,261.6 1320.8,259.3 1323.9,254.8 1326.9,257.1 1329.2,257.8 1331.5,266.2 1333.8,262.4 1337.6,261.6 1339.8,265.4 1342.1,259.3 1343.6,235.0 1345.1,204.7 1346.7,186.5 1348.9,180.4 1351.2,186.5 1352.7,204.7 1354.3,227.5 1355.8,242.6 1357.8,244.9" fill="none" stroke="#86c47e" stroke-width="1.400" stroke-linejoin="round"/></svg><span class="t" style="left:19.2px;top:99.2px;font-size:17.2px;line-height:17.2px;color:#c8ccd2;-webkit-text-stroke:0.46px;transform:scaleX(1.0317);">0.00200</span><span class="t" style="left:19.2px;top:183.9px;font-size:17.2px;line-height:17.2px;color:#c8ccd2;-webkit-text-stroke:0.46px;transform:scaleX(1.0317);">0.00100</span><span class="t" style="left:73.7px;top:269.1px;font-size:17.2px;line-height:17.2px;color:#c8ccd2;-webkit-text-stroke:0.46px;transform:scaleX(1.0038);">0</span><span class="t" style="left:79.4px;top:300.6px;font-size:17.2px;line-height:17.2px;color:#c8ccd2;-webkit-text-stroke:0.46px;transform:scaleX(1.0364);">02/16 12:00</span><span class="t" style="left:169.0px;top:300.6px;font-size:17.2px;line-height:17.2px;color:#c8ccd2;-webkit-text-stroke:0.46px;transform:scaleX(1.0364);">02/17 00:00</span><span class="t" style="left:258.6px;top:300.6px;font-size:17.2px;line-height:17.2px;color:#c8ccd2;-webkit-text-stroke:0.46px;transform:scaleX(1.0364);">02/17 12:00</span><span class="t" style="left:348.2px;top:300.6px;font-size:17.2px;line-height:17.2px;color:#c8ccd2;-webkit-text-stroke:0.46px;transform:scaleX(1.0364);">02/18 00:00</span><span class="t" style="left:437.8px;top:300.6px;font-size:17.2px;line-height:17.2px;color:#c8ccd2;-webkit-text-stroke:0.46px;transform:scaleX(1.0364);">02/18 12:00</span><span class="t" style="left:527.4px;top:300.6px;font-size:17.2px;line-height:17.2px;color:#c8ccd2;-webkit-text-stroke:0.46px;transform:scaleX(1.0364);">02/19 00:00</span><span class="t" style="left:617.0px;top:300.6px;font-size:17.2px;line-height:17.2px;color:#c8ccd2;-webkit-text-stroke:0.46px;transform:scaleX(1.0364);">02/19 12:00</span><span class="t" style="left:706.6px;top:300.6px;font-size:17.2px;line-height:17.2px;color:#c8ccd2;-webkit-text-stroke:0.46px;transform:scaleX(1.0364);">02/20 00:00</span><span class="t" style="left:796.2px;top:300.6px;font-size:17.2px;line-height:17.2px;color:#c8ccd2;-webkit-text-stroke:0.46px;transform:scaleX(1.0364);">02/20 12:00</span><span class="t" style="left:885.8px;top:300.6px;font-size:17.2px;line-height:17.2px;color:#c8ccd2;-webkit-text-stroke:0.46px;transform:scaleX(1.0364);">02/21 00:00</span><span class="t" style="left:975.4px;top:300.6px;font-size:17.2px;line-height:17.2px;color:#c8ccd2;-webkit-text-stroke:0.46px;transform:scaleX(1.0364);">02/21 12:00</span><span class="t" style="left:1065.0px;top:300.6px;font-size:17.2px;line-height:17.2px;color:#c8ccd2;-webkit-text-stroke:0.46px;transform:scaleX(1.0364);">02/22 00:00</span><span class="t" style="left:1154.6px;top:300.6px;font-size:17.2px;line-height:17.2px;color:#c8ccd2;-webkit-text-stroke:0.46px;transform:scaleX(1.0364);">02/22 12:00</span><span class="t" style="left:1244.2px;top:300.6px;font-size:17.2px;line-height:17.2px;color:#c8ccd2;-webkit-text-stroke:0.46px;transform:scaleX(1.0364);">02/23 00:00</span><i class="sw" style="left:36.5px;top:344.5px;background:#73bf69"></i><span class="t" style="left:68.2px;top:338.6px;font-size:17.2px;line-height:17.2px;color:#d8d9da;-webkit-text-stroke:0.46px;transform:scaleX(1.0216);">Rate of Power</span></section></main><div class="scroll"></div></div></body></html>
